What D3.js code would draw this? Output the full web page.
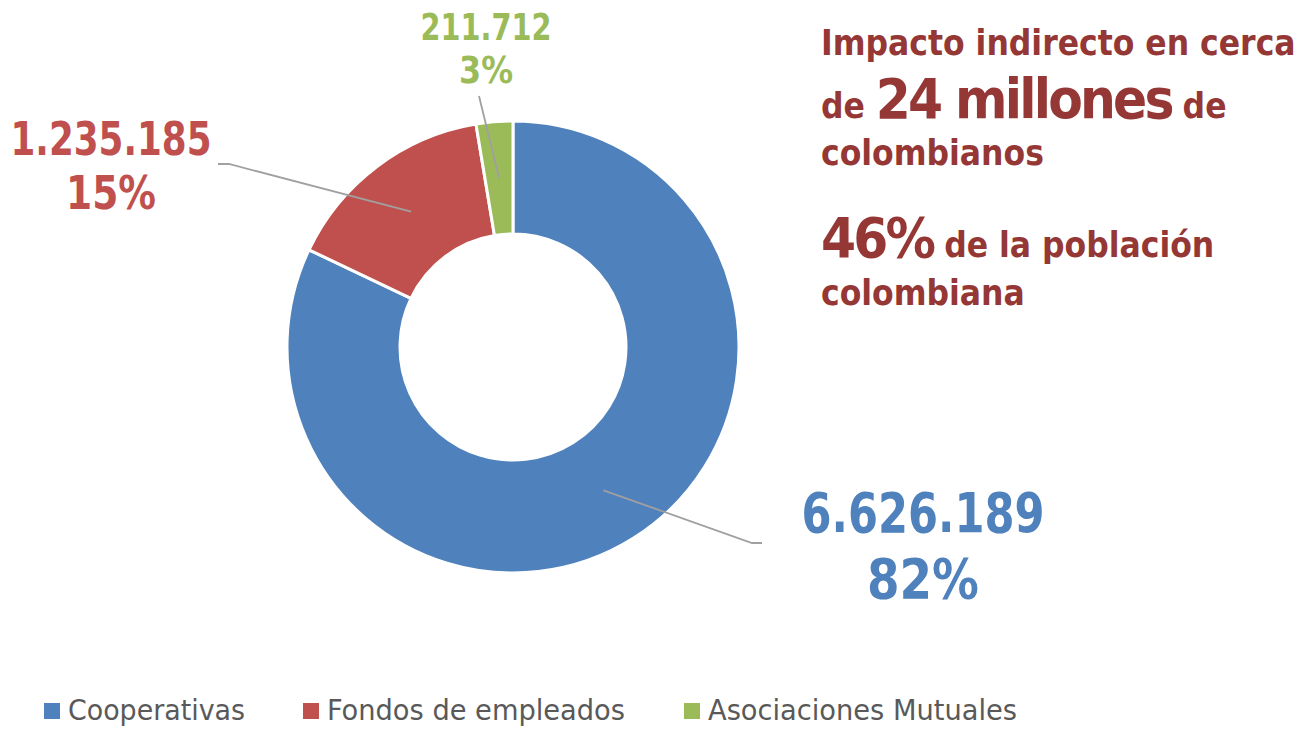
<!DOCTYPE html>
<html>
<head>
<meta charset="utf-8">
<script src="https://cdn.jsdelivr.net/npm/d3@7"></script>
<style>
  html, body { margin: 0; padding: 0; background: #ffffff; }
  svg { display: block; }
</style>
</head>
<body>
<svg id="chart" width="1316" height="730"></svg>
<script>
// ---- data ----
const categories = ["Cooperativas", "Fondos de empleados", "Asociaciones Mutuales"];
const values = [6626189, 1235185, 211712];
const colors = ["#4F81BD", "#C0504D", "#9BBB59"];
const noteLines = [
  [{ t: "Impacto indirecto en cerca", big: false }],
  [{ t: "de ", big: false }, { t: "24 millones", big: true }, { t: " de", big: false }],
  [{ t: "colombianos", big: false }],
  [{ t: "46%", big: true }, { t: " de la población", big: false }],
  [{ t: "colombiana", big: false }]
];

// ---- drawing ----
const svg = d3.select("#chart");
const cx = 513, cy = 347, rOut = 226, rIn = 113;
const total = d3.sum(values);
const loc = d3.formatLocale({ decimal: ",", thousands: ".", grouping: [3], currency: ["$", ""] });
const fmt = loc.format(",d");

const pie = d3.pie().sort(null).value(d => d);
const arcs = pie(values);
const arc = d3.arc().innerRadius(rIn).outerRadius(rOut);
const midArc = d3.arc().innerRadius((rIn + rOut) / 2).outerRadius((rIn + rOut) / 2);

const g = svg.append("g").attr("transform", `translate(${cx},${cy})`);
g.selectAll("path.slice").data(arcs).enter().append("path")
  .attr("class", "slice")
  .attr("d", arc)
  .attr("fill", (d, i) => colors[i])
  .attr("stroke", "#ffffff")
  .attr("stroke-width", 3)
  .attr("stroke-linejoin", "round");

// label layout (positions only)
const labelLayout = [
  { x: 923, y1: 532, y2: 598, fs: 56, w1: 243, w2: 112, path: [[752, 543], [762, 543]] },
  { x: 111, y1: 155, y2: 209, fs: 46, w1: 201, w2: 90, path: [[229, 164], [218, 164]] },
  { x: 486, y1: 40, y2: 83, fs: 38, w1: 131, w2: 54, path: [[479, 96]] }
];

const lbl = svg.append("g").attr("font-family", "'DejaVu Sans Condensed','DejaVu Sans',sans-serif")
  .attr("font-weight", "bold").attr("text-anchor", "middle");

arcs.forEach((d, i) => {
  const L = labelLayout[i];
  const c = midArc.centroid(d);
  const pts = [[cx + c[0], cy + c[1]]].concat(L.path);
  svg.append("path")
    .attr("d", d3.line()(pts))
    .attr("fill", "none")
    .attr("stroke", "#A0A0A0")
    .attr("stroke-width", 1.8);
  const pct = Math.round(d.value / total * 100) + "%";
  lbl.append("text")
    .attr("x", L.x).attr("y", L.y1)
    .attr("font-size", L.fs)
    .attr("fill", colors[i])
    .attr("textLength", L.w1).attr("lengthAdjust", "spacingAndGlyphs")
    .text(fmt(d.value));
  lbl.append("text")
    .attr("x", L.x).attr("y", L.y2)
    .attr("font-size", L.fs)
    .attr("fill", colors[i])
    .attr("textLength", L.w2).attr("lengthAdjust", "spacingAndGlyphs")
    .text(pct);
});

// note text
const noteBase = [55, 118, 165, 257, 305];
const note = svg.append("g")
  .attr("font-family", "'DejaVu Sans Condensed','DejaVu Sans',sans-serif")
  .attr("font-weight", "bold")
  .attr("fill", "#953735");
noteLines.forEach((line, i) => {
  const t = note.append("text").attr("x", 821).attr("y", noteBase[i]);
  line.forEach(seg => {
    t.append("tspan")
      .attr("font-size", seg.big ? 56 : 35)
      .attr("letter-spacing", seg.big ? -2.8 : 0)
      .text(seg.t);
  });
});

// legend
const legendX = [44, 303, 684];
const legendW = [177, 298, 309];
const leg = svg.append("g")
  .attr("font-family", "'DejaVu Sans Condensed','DejaVu Sans',sans-serif")
  .attr("font-size", 29)
  .attr("fill", "#595959");
categories.forEach((c, i) => {
  leg.append("rect")
    .attr("x", legendX[i]).attr("y", 703)
    .attr("width", 16).attr("height", 16)
    .attr("fill", colors[i]);
  leg.append("text")
    .attr("x", legendX[i] + 24).attr("y", 720)
    .attr("textLength", legendW[i]).attr("lengthAdjust", "spacingAndGlyphs")
    .text(c);
});
</script>
</body>
</html>
